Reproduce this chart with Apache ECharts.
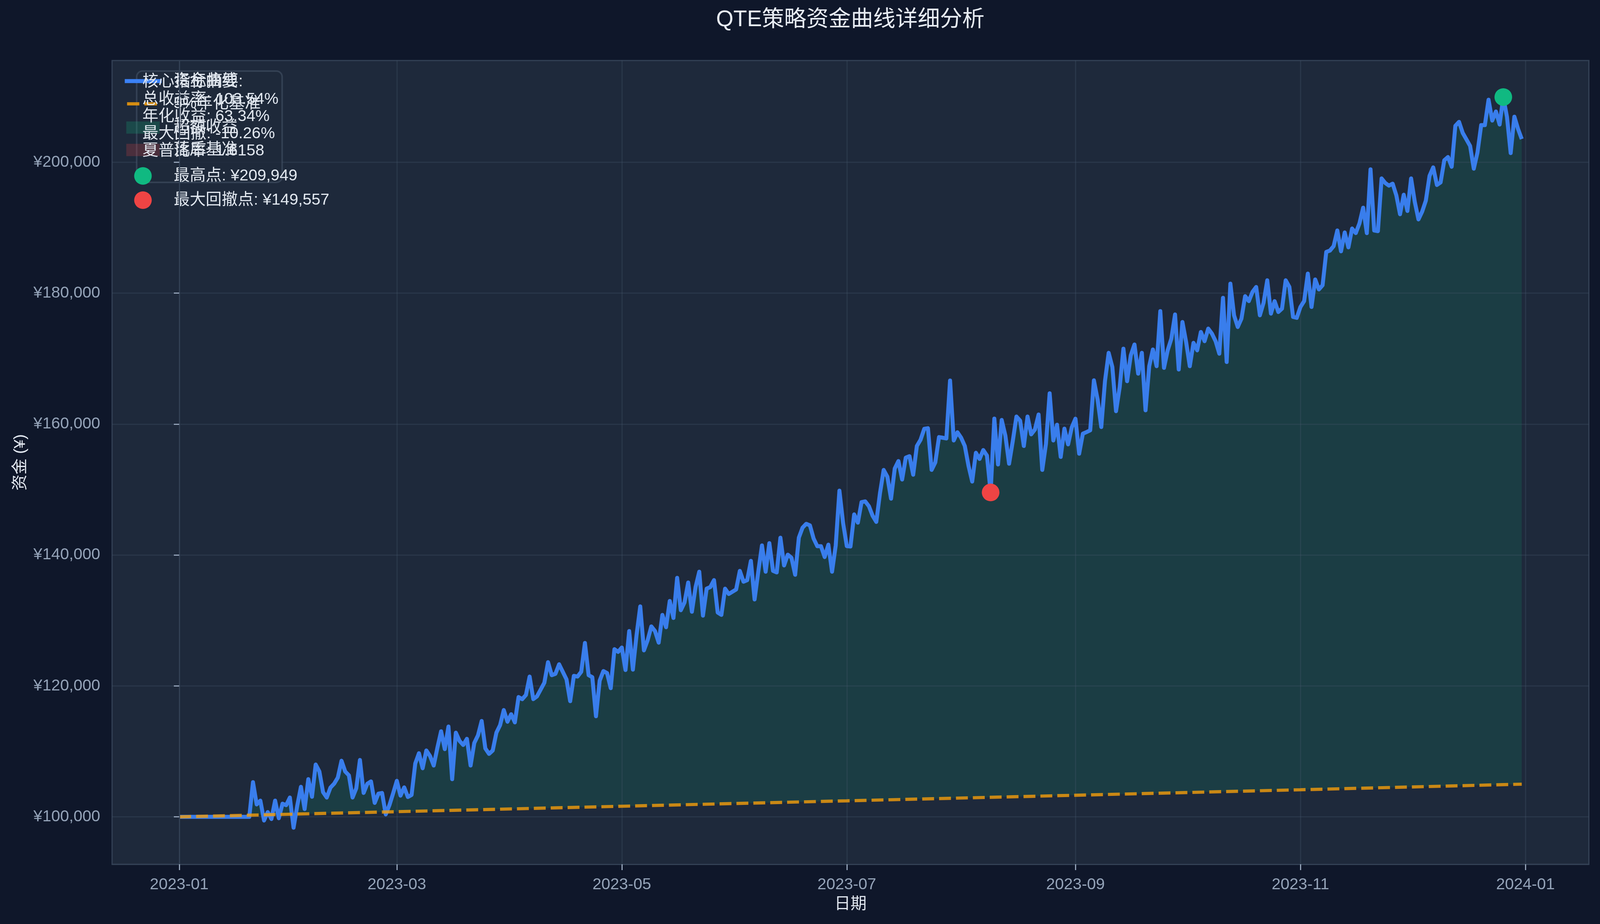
<!DOCTYPE html>
<html>
<head>
<meta charset="utf-8">
<script src="https://cdn.jsdelivr.net/npm/echarts@6/dist/echarts.min.js"></script>
<style>
html,body{margin:0;padding:0;background:#0f172a;overflow:hidden;}
#chart{position:absolute;left:0;top:0;}
</style>
</head>
<body>
<div id="chart"></div>
<script>
// ---------------- data ----------------
const titleText = 'QTE策略资金曲线详细分析';
const startDate = '2023-01-01';
// daily equity values, 2023-01-01 .. 2023-12-31
const equityValues = [
100000,100000,100000,100000,100000,100000,100000,100000,100000,100000,
100000,100000,100000,100000,100000,100000,100000,100000,100000,100000,
105300,101900,102480,99440,100730,99670,102480,99790,102010,101780,
102950,98340,101700,104590,101190,105760,103070,107990,106930,103770,
102950,104470,105060,106000,108570,106930,106350,102950,104360,108690,
103650,105060,105410,102130,103540,103650,100370,101800,103600,105500,
103240,104500,103030,103350,108150,109720,107420,110140,109300,107840,
110560,113070,110350,113800,105750,112860,111600,110980,111920,107840,
111290,112440,114640,110450,109620,110140,112860,114010,116310,114530,
115680,114430,118300,117980,118610,121430,117980,118400,119450,120490,
123630,121640,121850,123310,122160,121010,117670,121540,121430,122160,
126560,121640,121330,115370,120810,122270,121960,119660,125610,125200,
125860,122430,128380,122490,127790,132150,125430,126970,129090,128380,
126610,130850,128970,132980,130380,136510,131560,132740,135800,131330,
135100,137450,130740,134860,135100,136160,131210,130850,134860,134040,
134390,134740,137570,135920,136160,139100,133210,137450,141460,137450,
141810,137570,137340,142640,138400,140050,139580,136980,142640,144170,
144760,144530,142520,141340,141340,139690,141580,137450,141460,149830,
144880,141360,141290,146200,144940,148080,148190,147450,145990,145050,
149440,152990,151950,148600,153200,154350,151530,154880,155090,152260,
156650,157600,159270,159370,153000,154150,158010,157910,157800,166650,
157490,158750,157910,156650,153620,151220,155610,154670,156030,155190,
149557,160840,153830,160630,158220,153940,157390,161150,160520,156650,
161150,158430,159160,161460,153000,156970,164700,157490,159900,154980,
159300,156900,159500,160820,155470,158530,158780,159040,166680,163750,
159550,166550,170880,168720,161970,165660,171520,166550,170500,172160,
167700,170880,162100,168840,171390,168840,177250,168590,171260,173050,
176740,168330,175590,172540,168840,172410,171260,174070,172660,174580,
173810,172660,170750,179290,169480,181450,176610,174830,176100,179540,
178780,180180,180940,176610,178520,181960,176870,178780,177120,177630,
181960,180940,176360,176230,177890,178780,182980,177890,182090,180560,
181200,186300,186500,187180,189570,186390,189270,186990,189870,189170,
190660,193050,189170,198910,189570,189470,197520,196820,196420,196720,
194930,192050,195030,192550,197520,193940,191260,192450,194140,197910,
199210,196520,196920,200300,200790,199300,205560,206160,204470,203480,
202480,199010,201490,205660,205660,209540,206360,207750,205760,209949,
206900,201390,206950,205070,203540
];
// 5% annualised benchmark, read at a few dates
const benchmarkDates  = ['2023-01-01','2023-03-01','2023-05-01','2023-07-01','2023-09-01','2023-11-01','2023-12-31'];
const benchmarkValues = [100000, 100790, 101620, 102450, 103300, 104140, 104990];
const highPoint     = ['2023-12-26', 209949];
const drawdownPoint = ['2023-08-09', 149557];
const xTickLabels = ['2023-01','2023-03','2023-05','2023-07','2023-09','2023-11','2024-01'];
const yTickValues = [100000,120000,140000,160000,180000,200000];
const seriesNames = ['资金曲线','5%年化基准','超额收益','落后基准','最高点: ¥209,949','最大回撤点: ¥149,557'];
const metricsLines = ['核心指标摘要:','总收益率: 103.54%','年化收益: 63.34%','最大回撤: -10.26%','夏普比率: 1.6158'];
const xAxisName = '日期';
const yAxisName = '资金 (¥)';

// ---------------- helpers ----------------
const DAY = 86400000;
const T0 = Date.UTC(2023,0,1);
function dayIndex(s){
  const p = s.split('-').map(Number);
  return (Date.UTC(p[0], p[1]-1, p[2] || 1) - T0) / DAY;
}
const s0 = dayIndex(startDate);
const equityData = equityValues.map((v,i) => [s0 + i, v]);
const benchData = benchmarkDates.map((d,i) => [dayIndex(d), benchmarkValues[i]]);
const xTickValues = xTickLabels.map(l => dayIndex(l));

// layout designed for 4168 x 2366, scaled to the actual viewport
const W = window.innerWidth || 4168;
const H = window.innerHeight || 2366;
const SX = W / 4168, SY = H / 2366;
const X = v => v * SX, Y = v => v * SY, F = v => v * Math.min(SX, SY);

const FONT = "'Liberation Sans','Noto Sans CJK SC',sans-serif";
const PLOT_BG = '#1e293b';
const GRID_COLOR = 'rgba(71,85,105,0.3)';
const TEXT = '#e2e8f0';
const TICK = '#94a3b8';

const el = document.getElementById('chart');
el.style.width = W + 'px';
el.style.height = H + 'px';
const chart = echarts.init(el, null, {renderer:'canvas', width: W, height: H});

const legendText = {color: TEXT, fontSize: F(41.7), lineHeight: F(42), fontFamily: FONT};

const option = {
  backgroundColor: '#0f172a',
  animation: false,
  textStyle: {fontFamily: FONT},
  title: {
    text: titleText,
    left: X(2215), top: Y(23), padding: 0,
    textAlign: 'center',
    textStyle: {color:'#e8edf4', fontSize: F(58), fontWeight:'normal', fontFamily: FONT}
  },
  grid: {
    left: X(292), right: X(29), top: Y(155), bottom: Y(153),
    containLabel: false, outerBoundsMode: 'none',
    show: true, backgroundColor: PLOT_BG, borderColor: '#334155', borderWidth: 3
  },
  legend: [
    {
      data: [
        {name: seriesNames[0], icon: 'path://M0,0h96v10.4h-96z M121.99,0h0.01v10.4h-0.01z', itemStyle: {color:'#3b82f6', opacity:1}},
        {name: seriesNames[1], icon: 'path://M0,0h0.01v8.3h-0.01z M6,0h32v8.3h-32z M51,0h33v8.3h-33z M121.99,0h0.01v8.3h-0.01z', itemStyle: {color:'rgba(245,158,11,0.85)'}}
      ],
      orient: 'vertical', left: X(325), top: Y(187), padding: 0,
      itemWidth: X(122), itemHeight: Y(10.4), itemGap: Y(17),
      selectedMode: false, textStyle: legendText
    },
    {
      data: [
        {name: seriesNames[2], icon: 'path://M0,0h87v32h-87z M117.99,0h0.01v32h-0.01z', itemStyle: {color:'rgba(16,185,129,0.22)'}},
        {name: seriesNames[3], icon: 'path://M0,0h87v32h-87z M117.99,0h0.01v32h-0.01z', itemStyle: {color:'rgba(239,68,68,0.22)'}}
      ],
      orient: 'vertical', left: X(329), top: Y(306), padding: 0,
      itemWidth: X(118), itemHeight: Y(32), itemGap: Y(16),
      selectedMode: false, textStyle: legendText
    },
    {
      data: [{name: seriesNames[4], icon:'circle'}, {name: seriesNames[5], icon:'circle'}],
      orient: 'vertical', left: X(349.5), top: Y(428), padding: 0,
      itemWidth: X(150), itemHeight: Y(45), itemGap: Y(17),
      selectedMode: false, textStyle: legendText
    }
  ],
  xAxis: {
    type: 'value', min: -18.2, max: 382.2, z: 10,
    name: xAxisName, nameLocation: 'middle', nameGap: Y(82),
    nameTextStyle: {color: TEXT, fontSize: F(42), fontFamily: FONT},
    axisLine: {show:true, onZero:false, lineStyle:{color:'#334155', width:3}},
    axisTick: {show:true, customValues: xTickValues, length: Y(15), lineStyle:{color: TICK, width:3}},
    axisLabel: {
      customValues: xTickValues, margin: Y(32), color: TICK, fontSize: F(41.7), fontFamily: FONT,
      formatter: v => { const i = xTickValues.findIndex(t => Math.abs(t - v) < 0.01); return i >= 0 ? xTickLabels[i] : ''; }
    },
    splitLine: {show:false}
  },
  yAxis: {
    type: 'value', min: 92760, max: 215530, z: 10,
    name: yAxisName, nameLocation: 'middle', nameGap: X(217),
    nameTextStyle: {color: TEXT, fontSize: F(42), fontFamily: FONT},
    axisLine: {show:true, lineStyle:{color:'#334155', width:3}},
    axisTick: {show:true, customValues: yTickValues, length: X(14), lineStyle:{color: TICK, width:3}},
    axisLabel: {
      customValues: yTickValues, margin: X(31), color: TICK, fontSize: F(41.7), fontFamily: FONT,
      formatter: v => '¥' + Math.round(v).toLocaleString('en-US')
    },
    splitLine: {show:false}
  },
  series: [
    {
      name: seriesNames[2], type: 'line', data: equityData, z: 1,
      symbol: 'none', silent: true,
      lineStyle: {width: 0, opacity: 0},
      itemStyle: {color: 'rgba(16,185,129,0.2)'},
      areaStyle: {color: 'rgba(16,185,129,0.2)', origin: 'start'}
    },
    {
      name: '_cover', type: 'line', data: benchData, z: 2,
      symbol: 'none', silent: true,
      lineStyle: {width: 0, opacity: 0},
      areaStyle: {color: PLOT_BG, opacity: 1, origin: 'start'},
      markLine: {
        silent: true, z: 3, symbol: ['none','none'], animation: false,
        label: {show: false},
        lineStyle: {color: GRID_COLOR, width: 3, type: 'solid'},
        emphasis: {disabled: true},
        data: yTickValues.map(v => ({yAxis: v})).concat(xTickValues.map(v => ({xAxis: v})))
      }
    },
    {
      name: seriesNames[3], type: 'line', data: [], z: 1,
      symbol: 'none', itemStyle: {color: 'rgba(239,68,68,0.2)'},
      areaStyle: {color: 'rgba(239,68,68,0.2)'}
    },
    {
      name: seriesNames[0], type: 'line', data: equityData, z: 4,
      symbol: 'none', silent: true,
      itemStyle: {color: '#3b82f6'},
      lineStyle: {color: '#3b82f6', width: F(10.4), opacity: 0.95, join: 'round'}
    },
    {
      name: seriesNames[1], type: 'line', data: benchData, z: 5,
      symbol: 'none', silent: true,
      itemStyle: {color: '#f59e0b'},
      lineStyle: {color: '#f59e0b', width: F(8.3), opacity: 0.8, type: [X(31), X(13)]}
    },
    {
      name: seriesNames[4], type: 'scatter', z: 6, symbolSize: F(46),
      itemStyle: {color: '#10b981', opacity: 1},
      data: [[dayIndex(highPoint[0]), highPoint[1]]]
    },
    {
      name: seriesNames[5], type: 'scatter', z: 6, symbolSize: F(46),
      itemStyle: {color: '#ef4444', opacity: 1},
      data: [[dayIndex(drawdownPoint[0]), drawdownPoint[1]]]
    }
  ],
  graphic: [
    {
      type: 'rect', z: 3.5,
      shape: {x: X(356), y: Y(182), width: X(379), height: Y(285), r: F(15)},
      style: {fill: 'rgba(30,41,59,0.8)', stroke: 'rgba(71,85,105,0.55)', lineWidth: 4}
    },
    {
      type: 'text', z: 8, x: X(371), y: Y(188),
      style: {text: metricsLines.join('\n'), fill: TEXT, font: F(41.7) + 'px ' + FONT, lineHeight: F(45), textVerticalAlign: 'top'}
    }
  ]
};
chart.setOption(option);
</script>
</body>
</html>
